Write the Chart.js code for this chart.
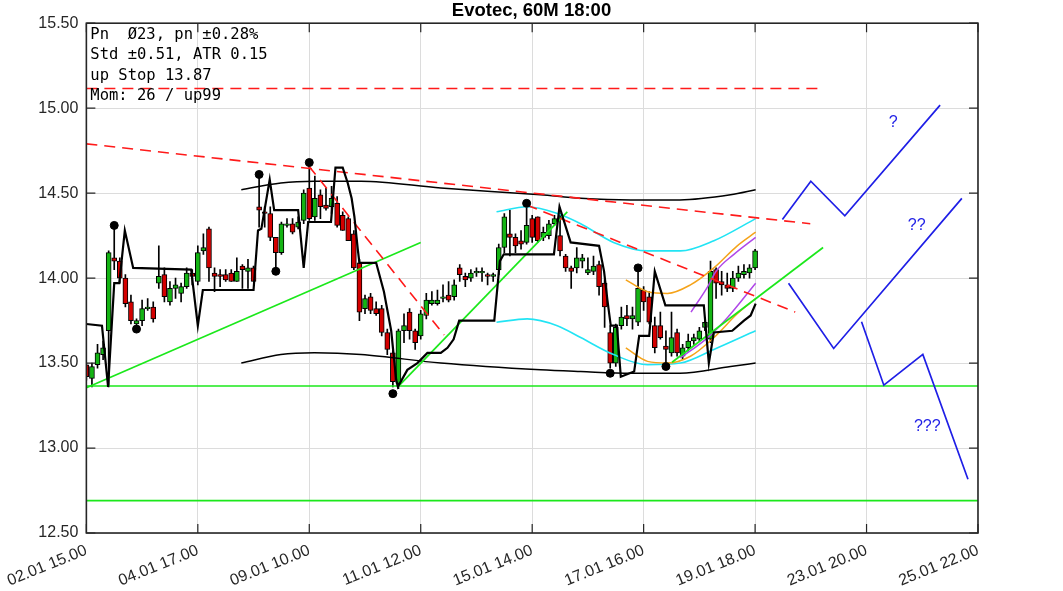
<!DOCTYPE html>
<html lang="de">
<head>
<meta charset="UTF-8">
<title>Evotec, 60M 18:00</title>
<script src="https://cdn.jsdelivr.net/npm/chart.js@4.4.1/dist/chart.umd.min.js"></script>
<style>
  body { margin: 0; background: #fff; }
</style>
</head>
<body>
<canvas id="chart" width="1063" height="591"></canvas>
<script>
// x axis: one step per hourly bar, a label every 20 bars
const xLabels = ['02.01 15.00', '04.01 17.00', '09.01 10.00', '11.01 12.00', '15.01 14.00',
                 '17.01 16.00', '19.01 18.00', '23.01 20.00', '25.01 22.00'];

// candles, bar 0 .. 120
const open = [13.49,13.41,13.49,13.55,13.69,14.12,14.10,14.00,13.86,13.73,13.75,13.82,13.83,13.97,14.02,13.86,13.94,13.91,13.95,14.03,
  13.98,14.16,14.29,14.03,14.02,14.02,14.03,13.98,14.07,14.04,14.06,14.42,14.39,14.38,14.24,14.15,14.31,14.32,14.30,14.34,
  14.53,14.36,14.49,14.43,14.42,14.44,14.37,14.35,14.26,14.09,13.82,13.89,13.82,13.82,13.68,13.56,13.38,13.69,13.80,13.69,
  13.66,13.78,13.85,13.85,13.88,13.90,13.89,14.06,14.01,14.00,14.03,14.03,14.02,14.01,14.05,14.18,14.26,14.24,14.22,14.21,
  14.35,14.36,14.24,14.25,14.32,14.25,14.13,14.06,14.06,14.10,14.03,14.04,14.08,13.97,13.68,13.50,13.72,13.78,13.76,13.74,
  13.93,13.89,13.72,13.72,13.60,13.56,13.68,13.54,13.59,13.63,13.64,13.71,13.64,14.05,13.98,13.96,13.94,14.00,14.02,14.03,14.06];
const high = [13.50,13.50,13.61,13.63,14.16,14.31,14.12,14.02,13.90,13.76,13.87,13.88,13.86,14.19,14.06,13.98,14.00,13.97,14.06,14.05,
  14.19,14.26,14.30,14.06,14.05,14.05,14.05,14.12,14.08,14.11,14.07,14.61,14.42,14.42,14.24,14.33,14.35,14.35,14.36,14.52,
  14.68,14.60,14.52,14.53,14.54,14.48,14.39,14.36,14.28,14.11,13.90,13.91,13.86,13.84,13.70,13.58,13.70,13.79,13.82,13.70,
  13.81,13.91,13.92,13.93,13.96,13.98,13.99,14.08,14.03,14.05,14.06,14.06,14.03,14.03,14.20,14.38,14.40,14.26,14.28,14.44,
  14.37,14.36,14.30,14.34,14.37,14.38,14.14,14.07,14.18,14.14,14.12,14.13,14.10,13.99,13.72,13.73,13.83,13.84,13.83,14.06,
  13.95,13.92,13.77,13.80,13.69,13.80,13.70,13.61,13.67,13.67,13.71,13.76,14.10,14.06,14.04,14.03,14.04,14.07,14.08,14.08,14.17];
const low = [13.40,13.36,13.47,13.52,13.36,14.05,13.97,13.83,13.73,13.72,13.72,13.81,13.74,13.94,13.86,13.84,13.88,13.86,13.94,13.96,
  13.96,14.14,13.98,13.92,13.95,13.98,13.98,13.98,13.94,13.94,13.98,14.30,14.30,14.22,14.04,14.14,14.30,14.26,14.29,14.32,
  14.34,14.34,14.35,14.40,14.38,14.30,14.28,14.22,14.05,13.75,13.79,13.79,13.78,13.66,13.55,13.36,13.35,13.62,13.64,13.58,
  13.64,13.76,13.84,13.84,13.86,13.86,13.87,13.98,13.95,13.98,14.01,13.98,13.96,13.98,14.02,14.15,14.13,14.15,14.17,14.20,
  14.21,14.21,14.22,14.23,14.31,14.13,14.04,13.94,14.03,14.06,14.02,14.02,13.90,13.71,13.47,13.48,13.70,13.72,13.70,13.72,
  13.81,13.73,13.56,13.64,13.48,13.54,13.54,13.52,13.57,13.61,13.63,13.69,13.62,13.88,13.90,13.92,13.92,13.98,14.00,14.00,14.05];
const close = [13.42,13.48,13.56,13.59,14.15,14.10,14.00,13.85,13.75,13.75,13.82,13.83,13.76,14.01,13.89,13.94,13.96,13.95,14.03,14.01,
  14.15,14.18,14.06,14.01,14.01,13.99,13.98,14.04,14.05,14.06,13.98,14.40,14.38,14.24,14.15,14.32,14.32,14.27,14.33,14.50,
  14.35,14.47,14.42,14.41,14.47,14.31,14.28,14.22,14.06,13.80,13.88,13.81,13.79,13.68,13.58,13.39,13.69,13.72,13.69,13.62,
  13.79,13.87,13.87,13.87,13.89,13.87,13.96,14.02,13.99,14.03,14.04,14.04,14.01,14.02,14.18,14.36,14.24,14.19,14.20,14.31,
  14.24,14.22,14.27,14.32,14.35,14.16,14.06,14.04,14.12,14.12,14.05,14.07,13.95,13.83,13.50,13.71,13.77,13.76,13.78,13.94,
  13.86,13.74,13.59,13.65,13.58,13.65,13.56,13.59,13.63,13.65,13.69,13.74,14.04,13.97,13.96,13.94,14.00,14.03,14.04,14.06,14.16];

// trailing stop line
const stopX = [0,2.8,3.9,5.0,5.9,6.9,8.4,18.8,20.0,20.9,30.0,30.8,31.4,32.9,33.7,38.0,39.0,39.8,43.9,44.7,46.0,46.9,47.6,48.1,48.7,49.0,
  52.0,53.4,54.7,55.6,55.9,57.6,59.4,61.2,63.6,64.8,65.9,66.9,73.2,74.2,74.9,83.9,84.9,86.9,92.0,92.9,93.5,94.1,95.2,95.9,98.3,
  99.2,101.0,102.0,103.9,110.8,111.7,112.6,115.9,118.0,119.2,120.1];
const stopY = [13.73,13.72,13.36,13.97,13.97,14.28,14.06,14.05,13.72,13.93,13.93,14.28,14.29,14.58,14.40,14.40,14.06,14.33,14.33,14.65,14.65,14.56,14.47,14.36,14.17,14.09,
  14.09,13.92,13.69,13.40,13.36,13.46,13.50,13.56,13.56,13.59,13.64,13.75,13.75,14.10,14.14,14.14,14.42,14.21,14.19,14.04,13.87,13.72,13.72,13.42,13.45,
  13.66,13.66,14.04,13.84,13.84,13.50,13.68,13.69,13.75,13.78,13.85];

// channel (black), bands (cyan, orange, purple)
const chanX = [27.8,34.9,40.9,49.3,63.6,81.5,88.7,97.7,106.5,115.6,120.1];
const chanUp = [14.52,14.56,14.57,14.57,14.53,14.49,14.47,14.46,14.46,14.49,14.52];
const chanDn = [13.50,13.55,13.56,13.55,13.50,13.46,13.45,13.44,13.44,13.48,13.50];
const cyanX = [73.6,79.1,84.5,88.7,94.6,100.7,106.6,112.6,120.1];
const cyanUp = [14.39,14.42,14.38,14.32,14.21,14.16,14.16,14.22,14.35];
const cyanDn = [13.74,13.76,13.72,13.65,13.55,13.49,13.50,13.58,13.69];
const orangeX = [96.8,100.7,104.3,108.4,112.6,116.8,120.1];
const orangeUp = [13.99,13.92,13.91,13.96,14.06,14.19,14.27];
const orangeDn = [13.59,13.51,13.50,13.54,13.65,13.79,13.88];
const purpleUpX = [108.5,111.5,113.0,116.2,120.1];
const purpleUp = [13.80,13.95,14.04,14.14,14.24];
const purpleDnX = [106.6,111.5,115.1,120.1];
const purpleDn = [13.53,13.65,13.77,13.97];

// support lines (green), resistance lines (red dashed): [x0, y0, x1, y1]
const greenLines = [[0,13.365,160,13.365],[0,12.69,160,12.69],[0,13.355,60,14.21],[55.9,13.36,86.3,14.39],[105.1,13.505,132.2,14.18]];
const redLines = [[0,15.116,131.4,15.116],[0,14.79,129.9,14.32],[39.9,14.66,64.2,13.665],[79,14.43,127.2,13.80]];

// pivot points
const pivotX = [5,9,31,34,40,55,79,94,99,104];
const pivotY = [14.31,13.70,14.61,14.04,14.68,13.32,14.44,13.44,14.06,13.48];

// projected paths (blue)
const projX = [[124.9,130.0,136.1,153.2],[126.0,134.1,157.1],[139.1,143.1,150.1,158.2]];
const projY = [[14.345,14.57,14.367,15.018],[13.97,13.586,14.469],[13.743,13.37,13.551,12.816]];
const projText = ['?', '??', '???'];
const projTextX = [144.8, 149.0, 150.9];
const projTextY = [14.916, 14.31, 13.125];

const notes = ['Pn  \u00d823, pn \u00b10.28%', 'Std \u00b10.51, ATR 0.15', 'up Stop 13.87', 'Mom: 26 / up99'];

const pts = (xs, ys) => xs.map((x, i) => ({x: x, y: ys[i]}));
const seg = s => [{x: s[0], y: s[1]}, {x: s[2], y: s[3]}];

const datasets = [];
datasets.push({
    type: 'bar', data: open.map((o, i) => ({x: i, y: [low[i], high[i]]})),
    backgroundColor: '#000', barThickness: 1, grouped: false, order: 20
});
datasets.push({
    type: 'bar', data: open.map((o, i) => ({x: i, y: [o, close[i]]})),
    backgroundColor: open.map((o, i) => close[i] >= o ? '#14b414' : '#d40000'),
    borderColor: '#000', borderWidth: 1, borderSkipped: false, barThickness: 5, grouped: false, order: 19
});

function curve(data, color, width, order) {
    return {type: 'line', data: data, borderColor: color, borderWidth: width, pointRadius: 0,
            fill: false, cubicInterpolationMode: 'monotone', order: order};
}
datasets.push(curve(pts(chanX, chanUp), '#000', 1.5, 12));
datasets.push(curve(pts(chanX, chanDn), '#000', 1.5, 12));
datasets.push(curve(pts(cyanX, cyanUp), '#22e4f4', 1.6, 11));
datasets.push(curve(pts(cyanX, cyanDn), '#22e4f4', 1.6, 11));
datasets.push(curve(pts(orangeX, orangeUp), '#f5a31a', 1.5, 10));
datasets.push(curve(pts(orangeX, orangeDn), '#f5a31a', 1.5, 10));
datasets.push(curve(pts(purpleUpX, purpleUp), '#b048e8', 1.5, 9));
datasets.push(curve(pts(purpleDnX, purpleDn), '#b048e8', 1.5, 9));

greenLines.forEach(s => datasets.push({type: 'line', data: seg(s), borderColor: '#1be81b', borderWidth: 1.7,
    pointRadius: 0, fill: false, order: 6}));
redLines.forEach(s => datasets.push({type: 'line', data: seg(s), borderColor: '#ff1a1a', borderWidth: 1.6,
    borderDash: [11, 7], pointRadius: 0, fill: false, order: 5}));

datasets.push({type: 'line', data: pts(stopX, stopY), borderColor: '#000', borderWidth: 2.2,
    pointRadius: 0, fill: false, tension: 0, order: 3});
datasets.push({type: 'scatter', data: pts(pivotX, pivotY), pointRadius: 4, pointBackgroundColor: '#000',
    pointBorderColor: '#000', showLine: false, order: 2});
projX.forEach((xs, k) => datasets.push({type: 'line', data: pts(xs, projY[k]), borderColor: '#1f1fe6',
    borderWidth: 1.7, pointRadius: 0, fill: false, order: 1}));

// box with inward ticks, like the original plot
const framePlugin = {
    id: 'frame',
    afterDraw(chart) {
        const {ctx, chartArea: a, scales} = chart;
        ctx.save();
        ctx.strokeStyle = '#262626';
        ctx.lineWidth = 1.2;
        ctx.beginPath();
        scales.x.ticks.forEach(t => {
            const px = scales.x.getPixelForValue(t.value);
            ctx.moveTo(px, a.bottom); ctx.lineTo(px, a.bottom - 9);
            ctx.moveTo(px, a.top); ctx.lineTo(px, a.top + 9);
        });
        scales.y.ticks.forEach(t => {
            const py = scales.y.getPixelForValue(t.value);
            ctx.moveTo(a.left, py); ctx.lineTo(a.left + 9, py);
            ctx.moveTo(a.right, py); ctx.lineTo(a.right - 9, py);
        });
        ctx.stroke();
        ctx.lineWidth = 1.6;
        ctx.strokeRect(a.left, a.top, a.right - a.left, a.bottom - a.top);
        ctx.restore();
    }
};

const textPlugin = {
    id: 'notes',
    afterDatasetsDraw(chart) {
        const {ctx, chartArea: a, scales} = chart;
        ctx.save();
        ctx.fillStyle = '#000';
        ctx.font = '15.5px "DejaVu Sans Mono", monospace';
        ctx.textAlign = 'left';
        ctx.textBaseline = 'alphabetic';
        notes.forEach((t, k) => ctx.fillText(t, a.left + 4, a.top + 15.5 + k * 20.4));
        ctx.fillStyle = '#1f1fe6';
        ctx.font = '16px "Liberation Sans", Arial, sans-serif';
        ctx.textAlign = 'center';
        ctx.textBaseline = 'middle';
        projText.forEach((t, k) => ctx.fillText(t, scales.x.getPixelForValue(projTextX[k]),
            scales.y.getPixelForValue(projTextY[k])));
        ctx.restore();
    }
};

new Chart(document.getElementById('chart'), {
    type: 'bar',
    data: {datasets: datasets},
    options: {
        responsive: false,
        animation: false,
        devicePixelRatio: 1,
        layout: {padding: 0},
        plugins: {
            legend: {display: false},
            tooltip: {enabled: false},
            title: {
                display: true, text: 'Evotec, 60M 18:00', color: '#000',
                font: {family: '"Liberation Sans", Arial, sans-serif', size: 18.5, weight: 'bold'},
                padding: {top: 0, bottom: 1}
            }
        },
        scales: {
            x: {
                type: 'linear', min: 0, max: 160, offset: false,
                grid: {color: '#dcdcdc', drawTicks: false, offset: false},
                border: {display: false},
                ticks: {
                    stepSize: 20, autoSkip: false, minRotation: 22, maxRotation: 22, padding: 8,
                    color: '#262626', font: {family: '"Liberation Sans", Arial, sans-serif', size: 16},
                    callback: v => xLabels[Math.round(v / 20)]
                },
                afterFit: s => { s.height = 58; }
            },
            y: {
                min: 12.5, max: 15.5,
                grid: {color: '#dcdcdc', drawTicks: false},
                border: {display: false},
                ticks: {
                    stepSize: 0.5, padding: 8, color: '#262626',
                    font: {family: '"Liberation Sans", Arial, sans-serif', size: 16},
                    callback: v => v.toFixed(2)
                },
                afterFit: s => { s.width = 85; }
            },
            // empty right margin
            y2: {
                position: 'right', display: true,
                grid: {drawOnChartArea: false, drawTicks: false},
                border: {display: false},
                ticks: {display: false},
                afterFit: s => { s.width = 85; }
            }
        }
    },
    plugins: [textPlugin, framePlugin]
});
</script>
</body>
</html>
